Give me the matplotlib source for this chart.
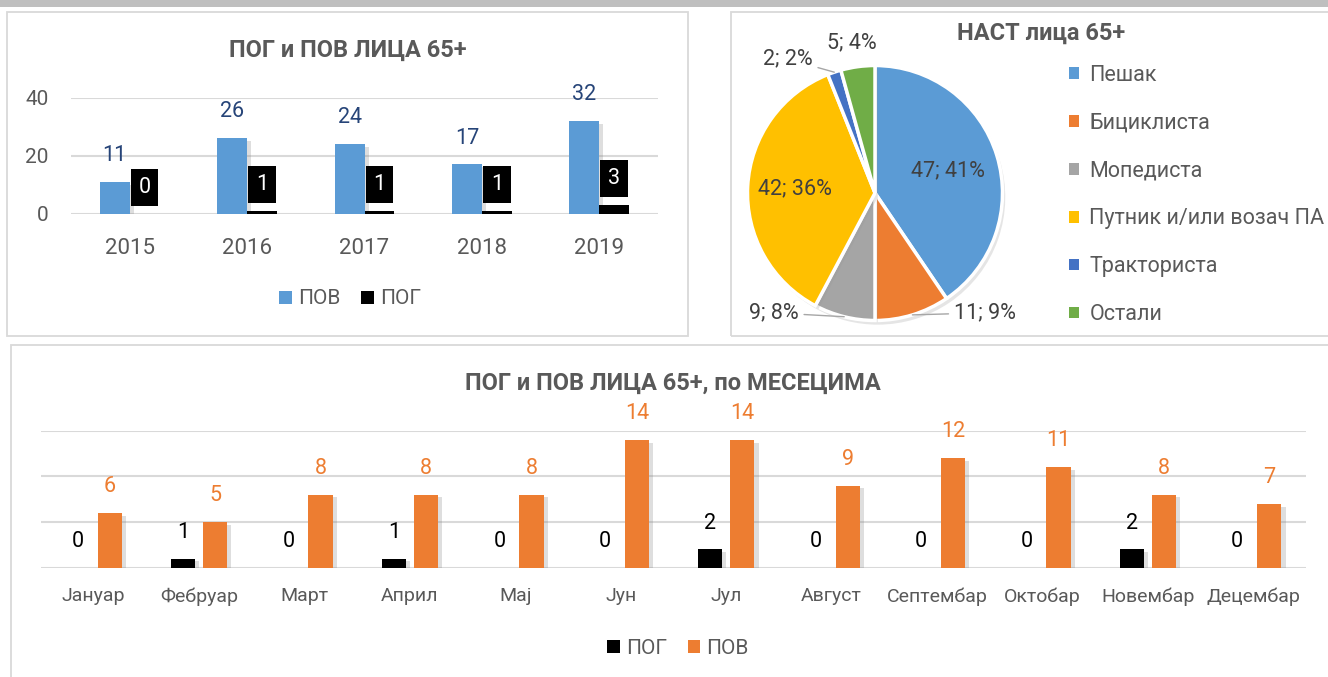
import numpy as np
import matplotlib.pyplot as plt
import matplotlib.patheffects as pe
from matplotlib.patches import Rectangle, Patch

plt.rcParams['font.family'] = ['Roboto', 'DejaVu Sans']

# подаци
years = ['2015', '2016', '2017', '2018', '2019']
pov_year = [11, 26, 24, 17, 32]
pog_year = [0, 1, 1, 1, 3]

nast_labels = ['Пешак', 'Бициклиста', 'Мопедиста', 'Путник и/или возач ПА', 'Тракториста', 'Остали']
nast_values = [47, 11, 9, 42, 2, 5]

months = ['Јануар', 'Фебруар', 'Март', 'Април', 'Мај', 'Јун', 'Јул', 'Август',
          'Септембар', 'Октобар', 'Новембар', 'Децембар']
pog_month = [0, 1, 0, 1, 0, 0, 2, 0, 0, 0, 2, 0]
pov_month = [6, 5, 8, 8, 8, 14, 14, 9, 12, 11, 8, 7]

BLUE = '#5B9BD5'
ORANGE = '#ED7D31'
GRAY_TXT = '#595959'
GRID = '#d9d9d9'
pie_colors = ['#5B9BD5', '#ED7D31', '#A5A5A5', '#FFC000', '#4472C4', '#70AD47']

W, H = 1328, 677
fig = plt.figure(figsize=(W / 100, H / 100), dpi=100)


def box(x0, y0, x1, y1):
    # пиксели -> координате фигуре
    return [x0 / W, 1 - y1 / H, (x1 - x0) / W, (y1 - y0) / H]


def frame(x0, y0, x1, y1):
    r = Rectangle((x0 / W, 1 - y1 / H), (x1 - x0) / W, (y1 - y0) / H,
                  transform=fig.transFigure, fill=False, ec=GRID, lw=1.3)
    fig.add_artist(r)


shadow = [pe.SimplePatchShadow(offset=(3, -2), shadow_rgbFace='#7f7f7f', alpha=0.25), pe.Normal()]

# сива трака горе
fig.add_artist(Rectangle((0, 1 - 7 / H), 1, 7 / H, transform=fig.transFigure, fc='#bfbfbf', ec='none'))
frame(7, 12, 688, 336)
frame(731, 12, 1340, 336)
frame(11, 345, 1340, 690)


def style_axes(ax):
    for s in ax.spines.values():
        s.set_visible(False)
    ax.yaxis.grid(True, color=GRID, lw=1.5)
    ax.set_axisbelow(True)
    ax.tick_params(length=0, colors=GRAY_TXT)


def square_legend(colors, labels, center, **kw):
    handles = [Patch(facecolor=c, edgecolor='none') for c in colors]
    return fig.legend(handles, labels, loc='center', bbox_to_anchor=center, ncol=len(labels),
                      frameon=False, fontsize=15, labelcolor=GRAY_TXT, handlelength=0.6,
                      handleheight=0.6, handletextpad=0.3, columnspacing=1.0, **kw)


# ---- ПОГ и ПОВ по годинама ----
ax1 = fig.add_axes(box(71, 97.7, 658, 213.7))
x = np.arange(len(years))
w = 0.255
b_pov = ax1.bar(x - w / 2, pov_year, w, color=BLUE, zorder=3, path_effects=shadow)
b_pog = ax1.bar(x + w / 2, pog_year, w, color='black', zorder=3)
ax1.set_xlim(-0.5, len(years) - 0.5)
ax1.set_ylim(0, 40)
ax1.set_yticks([0, 20, 40])
ax1.set_xticks(x, years)
style_axes(ax1)
ax1.tick_params(axis='x', labelsize=16, pad=17.5)
ax1.tick_params(axis='y', labelsize=15, pad=16)
for r, v in zip(b_pov, pov_year):
    ax1.annotate(str(v), (r.get_x() + r.get_width() / 2, v), xytext=(0, 19), textcoords='offset points',
                 ha='center', va='center', fontsize=15.5, color='#264478')
for r, v in zip(b_pog, pog_year):
    ax1.annotate(str(v), (r.get_x() + r.get_width() / 2, v), xytext=(0, 19), textcoords='offset points',
                 ha='center', va='center', fontsize=15.5, color='white', zorder=5,
                 bbox=dict(boxstyle='square,pad=0.36', fc='black', ec='none'))
fig.text(348 / W, 1 - 50 / H, 'ПОГ и ПОВ ЛИЦА 65+', ha='center', va='center',
         fontsize=17, fontweight='bold', color=GRAY_TXT)
square_legend([BLUE, 'black'], ['ПОВ', 'ПОГ'], (350 / W, 1 - 299 / H))

# ---- НАСТ лица 65+ ----
R = 127.5
cx, cy = 875, 193
ax2 = fig.add_axes(box(cx - R, cy - R, cx + R, cy + R))
wedges, _ = ax2.pie(nast_values, colors=pie_colors, startangle=90, counterclock=False,
                    wedgeprops=dict(edgecolor='white', linewidth=2.5))
for wd in wedges:
    wd.set_path_effects([pe.SimplePatchShadow(offset=(2, -3), shadow_rgbFace='#999999', alpha=0.25), pe.Normal()])
ax2.set_xlim(-1, 1)
ax2.set_ylim(-1, 1)
ax2.set_aspect('equal')
ax2.axis('off')

total = sum(nast_values)
# положај етикета: унутра (полупречник) или споља (x, y, поравнање)
label_place = [('in', 0.6), ('out', (0.62, -0.94), 'left'), ('out', (-0.6, -0.94), 'right'),
               ('in', 0.63), ('out', (-0.49, 1.05), 'right'), ('out', (-0.18, 1.18), 'center')]
for wd, v, place in zip(wedges, nast_values, label_place):
    txt = f'{v}; {round(100 * v / total)}%'
    ang = np.deg2rad((wd.theta1 + wd.theta2) / 2)
    if place[0] == 'in':
        rr = place[1]
        ax2.text(rr * np.cos(ang), rr * np.sin(ang), txt, ha='center', va='center',
                 fontsize=15.5, color='#404040')
    else:
        tx, ty = place[1]
        arrow = None if place[2] == 'center' else dict(arrowstyle='-', color='#a6a6a6', lw=1,
                                                        shrinkA=2, shrinkB=0)
        ax2.annotate(txt, (np.cos(ang), np.sin(ang)), xytext=(tx, ty), ha=place[2], va='center',
                     fontsize=15.5, color='#404040', arrowprops=arrow, annotation_clip=False)

fig.text(1041 / W, 1 - 33 / H, 'НАСТ лица 65+', ha='center', va='center',
         fontsize=17, fontweight='bold', color=GRAY_TXT)
fig.legend([Patch(facecolor=c, edgecolor='none') for c in pie_colors], nast_labels,
           loc='center left', bbox_to_anchor=(1069 / W, 1 - 195 / H),
           frameon=False, fontsize=15.5, labelcolor=GRAY_TXT, handlelength=0.45, handleheight=0.45,
           handletextpad=0.5, labelspacing=1.25, borderaxespad=0, borderpad=0)

# ---- по месецима ----
ax3 = fig.add_axes(box(41, 430.7, 1306, 567.7))
xm = np.arange(len(months))
wm = 0.23
off = 0.152
b_pogm = ax3.bar(xm - off, pog_month, wm, color='black', zorder=3, path_effects=shadow)
b_povm = ax3.bar(xm + off, pov_month, wm, color=ORANGE, zorder=3, path_effects=shadow)
ax3.set_xlim(-0.5, len(months) - 0.5)
ax3.set_ylim(0, 15)
ax3.set_yticks([0, 5, 10, 15], [])
ax3.set_xticks(xm, months)
style_axes(ax3)
ax3.tick_params(axis='x', labelsize=14, pad=14)
for bars, vals, col in [(b_pogm, pog_month, 'black'), (b_povm, pov_month, ORANGE)]:
    for r, v in zip(bars, vals):
        ax3.annotate(str(v), (r.get_x() + r.get_width() / 2, v), xytext=(0, 19), textcoords='offset points',
                     ha='center', va='center', fontsize=15.5, color=col)
fig.text(673 / W, 1 - 383 / H, 'ПОГ и ПОВ ЛИЦА 65+, по МЕСЕЦИМА', ha='center', va='center',
         fontsize=17, fontweight='bold', color=GRAY_TXT)
square_legend(['black', ORANGE], ['ПОГ', 'ПОВ'], (678 / W, 1 - 648 / H))

plt.savefig('out.png', dpi=100)
